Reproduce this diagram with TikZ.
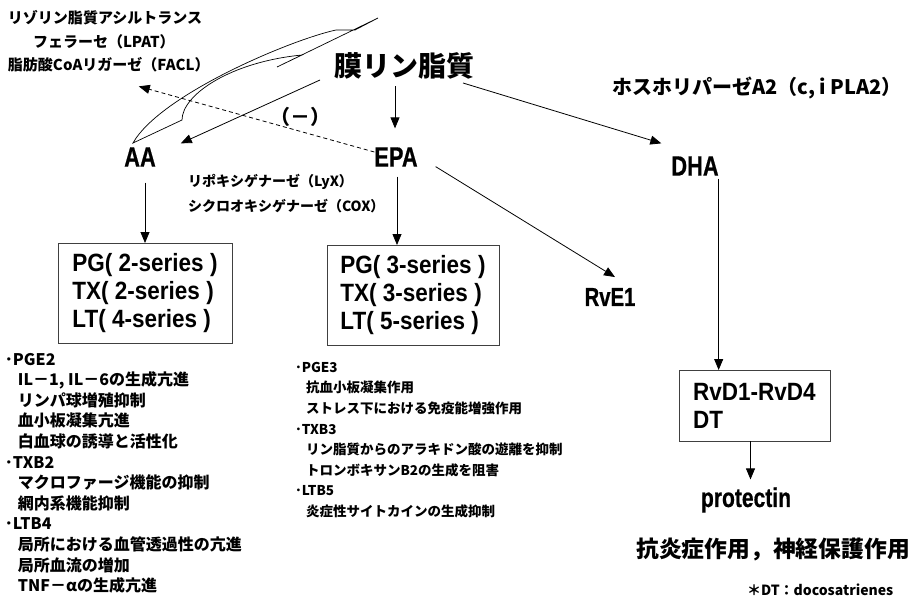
\documentclass[tikz,border=0pt]{standalone}
\usepackage{fontspec}
\usetikzlibrary{arrows.meta,calc}
\newfontfamily\jpn{Noto Sans CJK JP}
\newfontfamily\lat{Liberation Sans}[FakeStretch=0.78,FakeBold=0.6]
\newfontfamily\latw{Liberation Sans}[FakeStretch=0.9]
\newcommand\fsz[2]{\fontsize{#1}{#2}\selectfont}
\begin{document}
\begin{tikzpicture}[x=1pt,y=-1pt,
  every node/.style={inner sep=0pt, outer sep=0pt},
  arr/.style={draw, line width=0.8pt, -{Triangle[length=11pt,width=9pt]}},
  boxed/.style={draw=black!75, line width=0.9pt, align=left},
  jtxt/.style={font=\jpn\bfseries\fsz{#1}{#1}},
  ltxt/.style={font=\lat\bfseries\fsz{#1}{#1}},
  btxt/.style={font=\latw\bfseries\fsz{#1}{28}},
]
\useasboundingbox (0,0) rectangle (921,602);
% main nodes
\node[jtxt=28] (mem) at (404,66) {膜リン脂質};
\node[jtxt=15, anchor=west] (lpat1) at (8,18) {リゾリン脂質アシルトランス};
\node[jtxt=15, anchor=west] (lpat2) at (33,42) {フェラーセ（LPAT）};
\node[jtxt=15, anchor=west] (facl) at (8,65) {脂肪酸CoAリガーゼ（FACL）};
\node[jtxt=20, anchor=west] (pla) at (612,88) {ホスホリパーゼA2（c, i PLA2）};
\node[jtxt=20] (minus) at (300,117) {（－）};
\node[ltxt=28] (AA) at (140,157) {AA};
\node[ltxt=28] (EPA) at (396,157) {EPA};
\node[ltxt=28] (DHA) at (695,166) {DHA};
\node[jtxt=14, anchor=west] (lyx) at (188,182) {リポキシゲナーゼ（LyX）};
\node[jtxt=14, anchor=west] (cox) at (188,206) {シクロオキシゲナーゼ（COX）};
\node[boxed, btxt=25, minimum width=174pt, minimum height=100pt] (box1) at (145,293)
  {PG(~2-series~)\\TX(~2-series~)\\LT(~4-series~)};
\node[boxed, btxt=25, minimum width=172pt, minimum height=100pt] (box2) at (413,295)
  {PG(~3-series~)\\TX(~3-series~)\\LT(~5-series~)};
\node[ltxt=26] (rve1) at (610,297) {RvE1};
\node[boxed, btxt=25, minimum width=151pt, minimum height=71pt] (box3) at (754.5,405.5)
  {RvD1-RvD4\\DT};
\node[ltxt=27] (prot) at (746,500) {protectin};
\node[jtxt=22.8] (effect) at (773,550) {抗炎症作用，神経保護作用};
\node[jtxt=14, anchor=west] (note) at (747,590) {＊DT：docosatrienes};
% effect lists
\node[anchor=north west, align=left, font=\jpn\bfseries\fsz{16}{20.6}] (listA) at (5,353)
  {･PGE2\\
   \hspace*{13pt}IL－1, IL－6の生成亢進\\
   \hspace*{13pt}リンパ球増殖抑制\\
   \hspace*{13pt}血小板凝集亢進\\
   \hspace*{13pt}白血球の誘導と活性化\\
   ･TXB2\\
   \hspace*{13pt}マクロファージ機能の抑制\\
   \hspace*{13pt}網内系機能抑制\\
   ･LTB4\\
   \hspace*{13pt}局所における血管透過性の亢進\\
   \hspace*{13pt}局所血流の増加\\
   \hspace*{13pt}TNF－αの生成亢進};
\node[anchor=north west, align=left, font=\jpn\bfseries\fsz{13.5}{20.6}] (listB) at (295,362)
  {･PGE3\\
   \hspace*{11pt}抗血小板凝集作用\\
   \hspace*{11pt}ストレス下における免疫能増強作用\\
   ･TXB3\\
   \hspace*{11pt}リン脂質からのアラキドン酸の遊離を抑制\\
   \hspace*{11pt}トロンボキサンB2の生成を阻害\\
   ･LTB5\\
   \hspace*{11pt}炎症性サイトカインの生成抑制};
% curved outlined arrow shape
\draw[line width=0.7pt] (378,18) -- (355,30) -- (336,30)
  .. controls (290,40) and (160,95) .. (133,143) -- (182,120)
  .. controls (182,95) and (230,62) .. (302,55) -- (277,67) -- cycle;
% connectors
\draw[arr] ($(mem.west)+(-14,14)$) -- ($(AA.north east)+(25,-4)$);
\coordinate (m1) at ($(mem.south)+(-9,7)$);
\draw[arr] (m1) -- ($(m1 |- EPA.north)+(0,-19)$);
\draw[arr] ($(mem.east)+(-11,17)$) -- ($(DHA.north west)+(-10,-13)$);
\draw[arr, dash pattern=on 4pt off 3pt] ($(EPA.west)+(0,-5)$) -- ($(facl.south)+(30,14)$);
\coordinate (a1) at ($(AA.south)+(0,16)$);
\draw[arr] (a1 -| box1.north) -- (box1.north);
\coordinate (e1) at ($(EPA.south)+(1,10)$);
\draw[arr] (e1) -- (e1 |- box2.north);
\draw[arr] ($(EPA.south east)+(18,0)$) -- ($(rve1.north)+(5,-11)$);
\coordinate (d1) at ($(DHA.south east)+(0,3)$);
\draw[arr] (d1) -- (d1 |- box3.north);
\coordinate (b3) at ($(box3.south)+(-4,0)$);
\draw[arr] (b3) -- ($(b3 |- prot.north)+(0,-8)$);
\end{tikzpicture}
\end{document}
